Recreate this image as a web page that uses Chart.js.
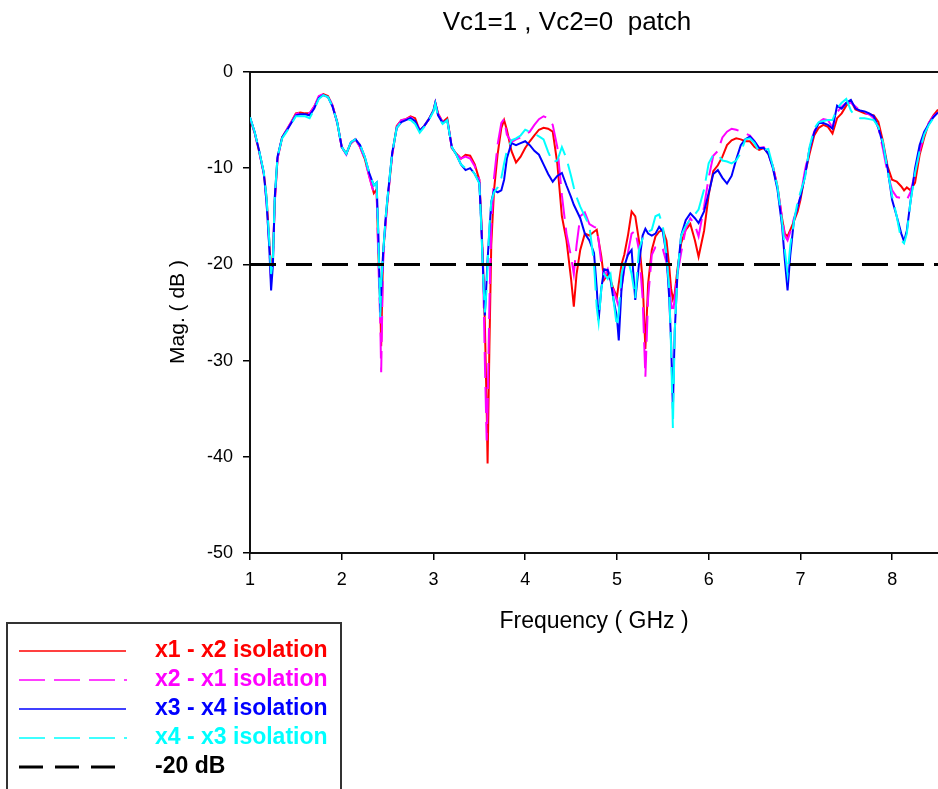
<!DOCTYPE html>
<html>
<head>
<meta charset="utf-8">
<title>Vc1=1 , Vc2=0 patch</title>
<script src="https://cdn.jsdelivr.net/npm/chart.js@4.4.1/dist/chart.umd.min.js"></script>
<style>
  html, body { margin: 0; padding: 0; background: #fff; overflow: hidden; }
  canvas { display: block; }
</style>
</head>
<body>
<canvas id="isoChart" width="938" height="789"></canvas>
<script>
// frequency points (GHz), denser around the deep notches
const freq = [
  1.00, 1.05, 1.10, 1.15, 1.18, 1.21, 1.23, 1.25, 1.27, 1.30,
  1.35, 1.40, 1.45, 1.50, 1.55, 1.60, 1.65, 1.70, 1.75, 1.80,
  1.85, 1.90, 1.95, 2.00, 2.05, 2.10, 2.15, 2.20, 2.25, 2.30,
  2.35, 2.38, 2.40, 2.42, 2.43, 2.45, 2.48, 2.50, 2.55, 2.60,
  2.65, 2.70, 2.75, 2.80, 2.85, 2.90, 2.95, 3.00, 3.02, 3.05,
  3.10, 3.15, 3.20, 3.25, 3.30, 3.35, 3.40, 3.45, 3.50, 3.52,
  3.54, 3.56, 3.58, 3.59, 3.61, 3.63, 3.66, 3.70, 3.74, 3.77,
  3.80, 3.85, 3.90, 3.95, 4.00, 4.05, 4.10, 4.15, 4.20, 4.25,
  4.30, 4.35, 4.40, 4.45, 4.50, 4.53, 4.56, 4.60, 4.65, 4.70,
  4.75, 4.78, 4.80, 4.83, 4.86, 4.90, 4.93, 4.96, 5.00, 5.02,
  5.05, 5.08, 5.12, 5.16, 5.20, 5.24, 5.28, 5.31, 5.34, 5.38,
  5.42, 5.46, 5.50, 5.54, 5.57, 5.59, 5.61, 5.63, 5.66, 5.70,
  5.75, 5.80, 5.85, 5.89, 5.95, 6.00, 6.05, 6.10, 6.15, 6.20,
  6.25, 6.30, 6.35, 6.40, 6.45, 6.50, 6.55, 6.60, 6.65, 6.70,
  6.75, 6.80, 6.83, 6.86, 6.89, 6.93, 6.97, 7.00, 7.05, 7.10,
  7.15, 7.20, 7.25, 7.30, 7.35, 7.40, 7.45, 7.50, 7.55, 7.60,
  7.65, 7.70, 7.75, 7.80, 7.85, 7.90, 7.95, 8.00, 8.05, 8.10,
  8.13, 8.16, 8.20, 8.25, 8.30, 8.35, 8.40, 8.45, 8.50
];

const x1x2 = [
  -4.8, -6.3, -8.3, -10.5, -13.0, -17.5, -21.0, -19.0, -13.5, -9.0,
  -6.8, -6.0, -5.2, -4.3, -4.2, -4.3, -4.3, -3.6, -2.6, -2.3,
  -2.5, -3.5, -5.2, -7.8, -8.5, -7.4, -7.0, -7.8, -9.0, -10.8,
  -12.6, -12.2, -19.0, -24.0, -28.5, -19.0, -15.5, -13.3, -8.6, -5.6,
  -5.0, -4.9, -4.6, -4.8, -6.1, -5.6, -4.9, -4.0, -3.2, -4.3,
  -5.2, -4.8, -7.9, -8.5, -9.0, -8.6, -8.7, -9.6, -11.2, -15.0,
  -20.0, -26.0, -35.0, -40.7, -28.5, -18.0, -12.3, -8.5, -5.8, -5.0,
  -6.0, -8.2, -9.4, -8.8, -7.9, -7.2, -6.6, -6.0, -5.8, -5.9,
  -6.2, -9.5, -15.0, -17.5, -21.5, -24.4, -21.0, -18.5, -16.8, -17.0,
  -16.6, -16.4, -17.5, -19.2, -21.6, -21.0, -21.6, -22.5, -23.4, -22.0,
  -20.0, -19.0, -17.0, -14.5, -15.0, -17.5, -21.6, -28.8, -22.0, -18.5,
  -17.1, -16.6, -16.4, -17.5, -20.2, -22.5, -23.6, -23.0, -20.5, -17.8,
  -16.4, -15.8, -17.5, -19.2, -16.5, -12.8, -10.3, -9.7, -8.8, -7.6,
  -7.1, -6.9, -7.0, -7.2, -7.2, -7.8, -8.1, -7.9, -8.5, -9.8,
  -11.9, -15.2, -16.8, -17.1, -16.4, -15.5, -14.5, -13.3, -10.6, -8.5,
  -6.6, -5.8, -5.5, -5.7, -6.4, -4.8, -4.3, -3.5, -3.0, -3.9,
  -4.1, -4.3, -4.4, -4.5, -5.2, -7.2, -9.8, -11.2, -11.4, -11.9,
  -12.3, -12.0, -12.3, -11.5, -8.6, -6.8, -5.3, -4.5, -3.9
];

const x2x1 = [
  -4.8, -6.3, -8.3, -10.6, -13.5, -18.0, -21.8, -19.5, -13.5, -9.0,
  -6.8, -6.0, -5.2, -4.4, -4.2, -4.3, -4.3, -3.6, -2.5, -2.3,
  -2.5, -3.5, -5.3, -7.8, -8.6, -7.4, -7.0, -7.8, -9.0, -10.9,
  -12.6, -12.3, -20.0, -26.0, -31.2, -20.0, -15.5, -13.3, -8.6, -5.7,
  -5.0, -4.9, -4.7, -4.9, -6.1, -5.6, -4.9, -4.0, -3.2, -4.4,
  -5.2, -4.8, -7.9, -8.5, -9.0, -8.8, -9.0, -9.8, -11.2, -15.5,
  -20.0, -30.0, -38.3, -35.0, -24.0, -16.0, -11.0, -7.5, -5.3, -4.9,
  -6.5, -7.3, -7.0, -6.8, -6.5, -6.2, -5.5, -4.9, -4.6, -4.8,
  -5.5, -7.8, -12.8, -16.8, -19.2, -21.0, -18.0, -15.0, -14.6, -15.8,
  -16.1, -16.2, -17.5, -19.9, -21.3, -20.5, -21.6, -22.6, -23.8, -24.4,
  -22.5, -20.5, -18.8, -16.8, -16.5, -18.5, -23.5, -31.7, -23.5, -19.0,
  -18.2, -18.0, -18.4, -19.8, -22.0, -24.0, -25.1, -23.5, -21.0, -18.8,
  -16.3, -15.2, -15.9, -17.1, -14.0, -11.0, -8.7, -8.2, -6.8, -6.2,
  -5.9, -6.0, -6.2, -6.4, -6.6, -7.2, -7.9, -7.8, -8.5, -9.8,
  -12.0, -15.2, -17.0, -17.5, -16.6, -15.2, -14.0, -13.0, -10.2, -8.0,
  -6.2, -5.2, -4.9, -5.0, -5.8, -4.2, -3.6, -3.2, -3.2, -3.6,
  -4.0, -4.3, -4.4, -4.8, -5.8, -8.0, -10.5, -12.3, -13.0, -13.1,
  -13.2, -13.3, -12.5, -10.5, -8.2, -6.5, -5.3, -4.6, -4.2
];

const x3x4 = [
  -4.7, -6.2, -8.2, -10.5, -13.5, -18.2, -22.7, -20.0, -13.0, -8.8,
  -6.8, -6.1, -5.3, -4.5, -4.4, -4.4, -4.5, -3.8, -2.7, -2.4,
  -2.6, -3.6, -5.2, -7.8, -8.5, -7.3, -7.0, -7.6, -8.8, -10.5,
  -11.8, -11.5, -17.0, -25.0, -23.0, -19.0, -15.0, -13.0, -8.4, -5.8,
  -5.2, -5.0, -4.8, -5.1, -6.1, -5.6, -4.9, -4.0, -3.2, -4.5,
  -5.3, -5.0, -7.8, -8.6, -9.6, -10.2, -10.0, -10.6, -11.5, -15.5,
  -20.5, -25.3, -21.5, -19.5, -16.5, -13.5, -12.3, -12.5, -12.3, -11.2,
  -9.0, -7.4, -7.6, -7.4, -7.2, -7.6, -8.2, -8.6, -9.6, -10.6,
  -11.4, -10.8, -10.5, -11.8, -13.0, -13.8, -14.4, -15.2, -16.8, -17.5,
  -18.8, -22.5, -25.8, -22.5, -20.5, -20.6, -21.6, -23.5, -25.5, -27.9,
  -22.5, -20.2, -19.0, -18.5, -23.7, -20.0, -17.0, -16.3, -16.8, -17.0,
  -16.8, -16.1, -16.6, -19.0, -23.5, -28.0, -35.0, -27.0, -21.0, -17.0,
  -15.4, -14.7, -15.2, -15.7, -14.5, -12.6, -10.6, -10.2, -11.0, -11.6,
  -10.8, -9.1, -7.6, -7.0, -6.7, -7.2, -7.9, -7.9, -8.5, -10.0,
  -12.2, -16.0, -19.5, -22.7, -19.0, -15.4, -14.0, -13.0, -10.8, -8.0,
  -6.3, -5.3, -5.3, -5.5, -5.9, -3.5, -3.8, -3.2, -2.9, -3.8,
  -4.0, -4.1, -4.3, -4.6, -5.8, -7.5, -10.0, -13.3, -15.0, -16.8,
  -17.6, -16.5, -13.5, -10.0, -7.6, -6.2, -5.4, -4.7, -4.2
];

const x4x3 = [
  -4.7, -6.2, -8.2, -10.4, -13.0, -17.5, -21.0, -19.5, -13.0, -8.8,
  -6.9, -6.2, -5.4, -4.6, -4.6, -4.6, -4.8, -3.9, -2.8, -2.4,
  -2.6, -3.6, -5.2, -7.8, -8.5, -7.3, -7.0, -7.6, -8.8, -10.5,
  -11.8, -11.5, -17.5, -25.5, -22.0, -19.0, -15.0, -13.0, -8.4, -5.8,
  -5.2, -5.0, -5.0, -5.4, -6.3, -5.7, -5.0, -4.1, -3.3, -4.6,
  -5.4, -5.0, -7.8, -8.6, -9.6, -10.0, -10.0, -10.6, -11.6, -15.8,
  -21.0, -25.0, -22.5, -20.0, -16.0, -13.5, -12.5, -12.0, -11.0, -9.5,
  -8.2, -7.1, -6.9, -6.6, -6.0, -6.2, -6.4, -6.7, -7.0, -8.3,
  -9.4, -9.2, -7.8, -9.0, -10.8, -12.0, -13.0, -14.0, -15.0, -16.0,
  -19.9, -24.5, -26.0, -22.5, -21.0, -21.5, -21.0, -23.5, -26.5, -25.0,
  -21.0, -19.8, -19.5, -21.0, -23.5, -18.5, -17.3, -16.8, -16.6, -16.4,
  -15.0, -14.8, -16.0, -19.0, -22.5, -28.6, -37.0, -27.0, -21.0, -17.0,
  -16.0, -15.3, -14.8, -14.3, -12.2, -9.5, -8.6, -8.6, -9.2, -9.3,
  -9.5, -9.2, -8.4, -7.0, -6.9, -7.4, -8.3, -8.1, -8.0, -9.8,
  -11.9, -15.5, -18.5, -21.0, -18.0, -15.5, -13.5, -12.5, -11.0, -7.8,
  -5.9, -5.2, -5.1, -5.0, -5.0, -3.8, -3.2, -2.8, -4.0, -4.6,
  -4.8, -4.8, -4.9, -5.0, -5.7, -7.3, -10.2, -12.9, -15.0, -17.5,
  -17.8, -16.8, -13.5, -10.5, -8.2, -6.5, -5.5, -4.8, -4.3
];

const refLevel = -20;
const xTicks = [1, 2, 3, 4, 5, 6, 7, 8];
const yTicks = [-50, -40, -30, -20, -10, 0];
const seriesNames = ["x1 - x2 isolation", "x2 - x1 isolation", "x3 - x4 isolation", "x4 - x3 isolation", "-20 dB"];

const chartTitle = "Vc1=1 , Vc2=0  patch";
const xTitle = "Frequency ( GHz )";
const yTitle = "Mag. ( dB )";

const FONT = "'Liberation Sans', Arial, sans-serif";
const colors = ["#ff0000", "#ff00ff", "#0000ff", "#00ffff", "#000000"];
const dashes = [[], [26, 9], [], [26, 9], [26, 10]];
const widths = [2, 2, 2, 2, 3];

function toPoints(values) {
  return freq.map((f, i) => ({ x: f, y: values[i] }));
}

function makeSet(i, data) {
  return {
    label: seriesNames[i],
    data: data,
    borderColor: colors[i],
    borderDash: dashes[i],
    borderWidth: widths[i],
    pointRadius: 0,
    tension: 0,
    fill: false,
    order: 5 - i
  };
}

// title, axis titles, top frame line and the boxed legend
const decorations = {
  id: "decorations",
  afterDraw(chart) {
    const c = chart.ctx;
    const area = chart.chartArea;
    c.save();
    c.strokeStyle = "#111";
    c.lineWidth = 2;
    c.beginPath();
    c.moveTo(area.left, area.top);
    c.lineTo(area.right, area.top);
    c.stroke();

    c.fillStyle = "#000";
    c.textAlign = "center";
    c.textBaseline = "middle";
    c.font = "26px " + FONT;
    c.fillText(chartTitle, 567, 23);
    c.font = "23px " + FONT;
    c.fillText(xTitle, 594, 622);
    c.save();
    c.translate(178, 312);
    c.rotate(-Math.PI / 2);
    c.font = "21px " + FONT;
    c.fillText(yTitle, 0, 0);
    c.restore();

    // legend box
    c.strokeStyle = "#333";
    c.lineWidth = 2;
    c.strokeRect(7, 623, 334, 200);
    const lineEnd = [126, 127, 126, 127, 116];
    c.textAlign = "left";
    c.font = "bold 23px " + FONT;
    seriesNames.forEach((name, i) => {
      const y = 651 + i * 29;
      c.beginPath();
      c.setLineDash(i === 4 ? [24, 12] : dashes[i]);
      c.lineWidth = i === 4 ? 3 : 1.5;
      c.strokeStyle = colors[i];
      c.moveTo(19, y);
      c.lineTo(lineEnd[i], y);
      c.stroke();
      c.setLineDash([]);
      c.fillStyle = i === 4 ? "#000" : colors[i];
      c.fillText(name, 155, y);
    });
    c.restore();
  }
};

const chart = new Chart(document.getElementById("isoChart"), {
  type: "line",
  data: {
    datasets: [
      makeSet(0, toPoints(x1x2)),
      makeSet(1, toPoints(x2x1)),
      makeSet(2, toPoints(x3x4)),
      makeSet(3, toPoints(x4x3)),
      makeSet(4, [{ x: freq[0], y: refLevel }, { x: freq[freq.length - 1], y: refLevel }])
    ]
  },
  options: {
    responsive: false,
    animation: false,
    layout: { padding: { top: 72, left: 0, right: 0, bottom: 0 } },
    plugins: {
      legend: { display: false },
      tooltip: { enabled: false },
      title: { display: false }
    },
    scales: {
      x: {
        type: "linear",
        min: 1,
        max: 8.5,
        afterBuildTicks: (scale) => { scale.ticks = xTicks.map(v => ({ value: v })); },
        afterFit: (scale) => { scale.height = 236; },
        grid: { drawOnChartArea: false, color: "#000", tickLength: 7, lineWidth: 1.5 },
        border: { color: "#111", width: 2 },
        ticks: { color: "#000", font: { family: FONT, size: 18 }, padding: 9, maxRotation: 0, autoSkip: false }
      },
      y: {
        min: -50,
        max: 0,
        afterBuildTicks: (scale) => { scale.ticks = yTicks.map(v => ({ value: v })); },
        afterFit: (scale) => { scale.width = 250; },
        grid: { drawOnChartArea: false, color: "#000", tickLength: 7, lineWidth: 1.5 },
        border: { color: "#111", width: 2 },
        ticks: { color: "#000", font: { family: FONT, size: 18 }, padding: 10 }
      }
    }
  },
  plugins: [decorations]
});
</script>
</body>
</html>
